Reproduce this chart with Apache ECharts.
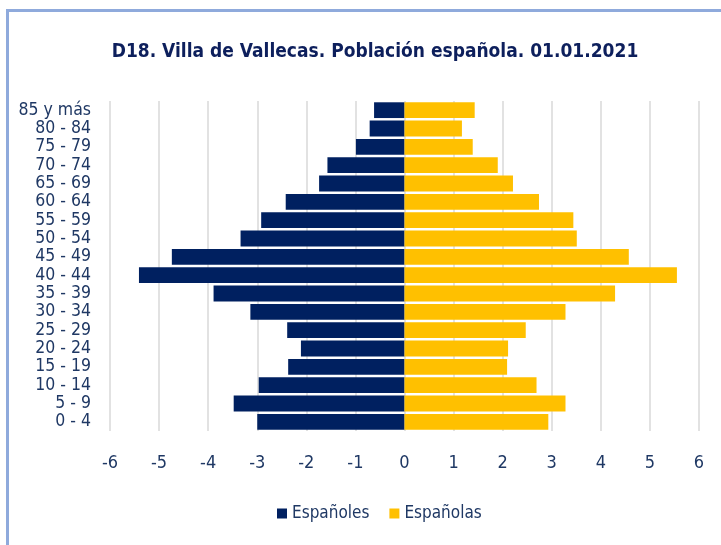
<!DOCTYPE html>
<html>
<head>
<meta charset="utf-8">
<script src="https://cdn.jsdelivr.net/npm/echarts@6/dist/echarts.min.js"></script>
<style>
  html, body { margin: 0; padding: 0; background: #ffffff; }
  #chart { width: 721px; height: 545px; }
</style>
</head>
<body>
<div id="chart"></div>
<script>
// grupos de edad, de abajo arriba
const ageGroups = ['0 - 4', '5 - 9', '10 - 14', '15 - 19', '20 - 24', '25 - 29', '30 - 34', '35 - 39',
  '40 - 44', '45 - 49', '50 - 54', '55 - 59', '60 - 64', '65 - 69', '70 - 74', '75 - 79', '80 - 84', '85 y más']
// porcentajes (hombres en negativo)
const espanoles = [-3.00, -3.48, -2.97, -2.37, -2.11, -2.39, -3.14, -3.89,
  -5.41, -4.74, -3.34, -2.92, -2.42, -1.74, -1.57, -0.99, -0.71, -0.62]
const espanolas = [2.93, 3.28, 2.69, 2.09, 2.11, 2.47, 3.28, 4.29,
  5.55, 4.57, 3.51, 3.44, 2.74, 2.21, 1.90, 1.39, 1.17, 1.43]
const xMin = -6
const xMax = 6

const font = '"Liberation Sans Narrow", "DejaVu Sans Condensed", sans-serif'
const navy = '#1F3864'

const chart = echarts.init(document.getElementById('chart'))
chart.setOption({
  animation: false,
  textStyle: { fontFamily: font },
  title: {
    text: 'D18. Villa de Vallecas. Población española. 01.01.2021',
    left: 370,
    textAlign: 'center',
    top: 38,
    textStyle: { fontFamily: font, fontSize: 19, fontWeight: 'bold', color: '#0D1F5C' }
  },
  graphic: [
    { type: 'rect', shape: { x: 6, y: 9, width: 715, height: 3 }, style: { fill: '#8FAADC' } },
    { type: 'rect', shape: { x: 6, y: 9, width: 3, height: 536 }, style: { fill: '#8FAADC' } }
  ],
  legend: {
    bottom: 18,
    left: 272,
    icon: 'rect',
    itemWidth: 10,
    itemHeight: 10,
    itemGap: 20,
    textStyle: { fontFamily: font, fontSize: 17, color: navy },
    data: ['Españoles', 'Españolas']
  },
  grid: { left: 110, right: 22, top: 101, bottom: 114 },
  xAxis: {
    type: 'value',
    min: xMin,
    max: xMax,
    interval: 1,
    axisLine: { show: false },
    axisTick: { show: false },
    axisLabel: { fontFamily: font, fontSize: 18, color: navy, margin: 23 },
    splitLine: { show: true, lineStyle: { color: '#D9D9D9', width: 1.5 } }
  },
  yAxis: {
    type: 'category',
    data: ageGroups,
    axisLine: { show: false },
    axisTick: { show: false },
    axisLabel: { fontFamily: font, fontSize: 17.5, color: navy, margin: 19, interval: 0 }
  },
  series: [
    {
      name: 'Españoles',
      type: 'bar',
      stack: 'pir',
      data: espanoles,
      barCategoryGap: '14%',
      itemStyle: { color: '#002060' }
    },
    {
      name: 'Españolas',
      type: 'bar',
      stack: 'pir',
      data: espanolas,
      barCategoryGap: '14%',
      itemStyle: { color: '#FFC000' }
    }
  ]
})
</script>
</body>
</html>
